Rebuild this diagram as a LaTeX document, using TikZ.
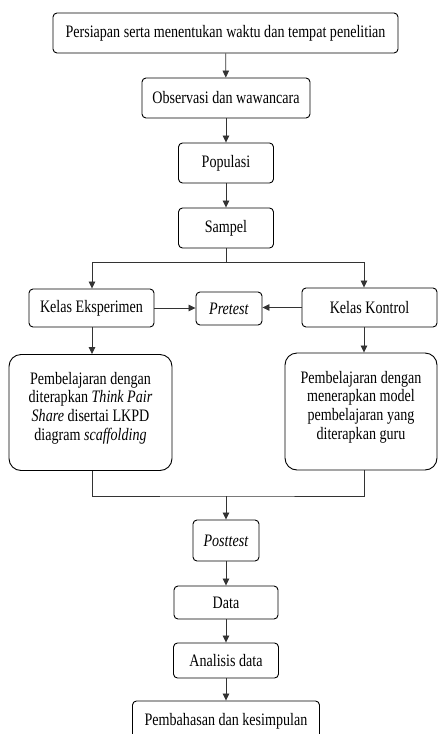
\documentclass[tikz,border=0pt]{standalone}
\usepackage{fontspec}
\setmainfont{Liberation Serif}[FakeStretch=0.805]
\usetikzlibrary{arrows.meta}
\tikzset{
	kotak/.style={draw=black, line width=0.9pt, rounded corners=4pt, align=center, inner sep=2pt, font=\fontsize{17.5}{18.7}\selectfont},
	kotakbesar/.style={kotak, rounded corners=12pt},
	garis/.style={draw=black!80, line width=0.8pt},
	panah/.style={garis, -{Triangle[length=7pt,width=6.5pt]}}
}

\begin{document}
\begin{tikzpicture}[x=1pt, y=-1pt]
			%%%%% START %%%%%
			
			\useasboundingbox (0, 0) rectangle (438, 734);
			
			\node[kotak, minimum width=345, minimum height=40] (persiapan) at (225.5, 33) {Persiapan serta menentukan waktu dan tempat penelitian};
			\node[kotak, minimum width=168, minimum height=40] (observasi) at (226, 98) {Observasi dan wawancara};
			\node[kotak, minimum width=95, minimum height=40] (populasi) at (226, 163) {Populasi};
			\node[kotak, minimum width=95, minimum height=40] (sampel) at (226, 228) {Sampel};
			
			\node[kotak, minimum width=125, minimum height=38] (eksperimen) at (91.5, 308) {Kelas Eksperimen};
			\node[kotak, minimum width=66, minimum height=33] (pretest) at (229, 308.5) {\textit{Pretest}};
			\node[kotak, minimum width=135, minimum height=39] (kontrol) at (369.5, 307.5) {Kelas Kontrol};
			
			% teks sedikit di atas tengah kotak
			\node[kotakbesar, minimum width=163, minimum height=116] (belajartps) at (90.5, 412.5) {\begin{tabular}{@{}c@{}}Pembelajaran dengan\\ diterapkan \textit{Think Pair}\\ \textit{Share} disertai LKPD\\ diagram \textit{scaffolding}\\[8pt]\end{tabular}};
			\node[kotakbesar, minimum width=152, minimum height=117] (belajarguru) at (361, 411.5) {\begin{tabular}{@{}c@{}}Pembelajaran dengan\\ menerapkan model\\ pembelajaran yang\\ diterapkan guru\\[8pt]\end{tabular}};
			
			\node[kotak, minimum width=66, minimum height=41] (posttest) at (226, 540.5) {\textit{Posttest}};
			\node[kotak, minimum width=104, minimum height=33] (data) at (226, 602.5) {Data};
			\node[kotak, minimum width=105, minimum height=35] (analisis) at (226, 660.5) {Analisis data};
			\node[kotak, minimum width=187, minimum height=40] (pembahasan) at (226, 721) {Pembahasan dan kesimpulan};
			
			\coordinate (kiri) at (92, 0);
			\coordinate (kanan) at (364, 0);
			\coordinate (cabang) at (226, 262.7);
			\coordinate (gabung) at (226, 496);
			
			\draw[panah] (persiapan) -- (observasi);
			\draw[panah] (observasi) -- (populasi);
			\draw[panah] (populasi) -- (sampel);
			
			\draw[garis] (sampel) -- (cabang);
			\draw[panah] (cabang) -| (eksperimen.north -| kiri);
			\draw[panah] (cabang) -| (kontrol.north -| kanan);
			
			\draw[panah] (eksperimen.east) -- (eksperimen.east -| pretest.west);
			\draw[panah] (kontrol.west) -- (kontrol.west -| pretest.east);
			
			\draw[panah] (eksperimen.south -| kiri) -- (belajartps.north -| kiri);
			\draw[panah] (kontrol.south -| kanan) -- (belajarguru.north -| kanan);
			
			\draw[garis] (belajartps.south -| kiri) |- (gabung) -| (belajarguru.south -| kanan);
			\draw[panah] (gabung) -- (posttest);
			
			\draw[panah] (posttest) -- (data);
			\draw[panah] (data) -- (analisis);
			\draw[panah] (analisis) -- (pembahasan);
			
			%%%%% END %%%%%
\end{tikzpicture}
\end{document}
